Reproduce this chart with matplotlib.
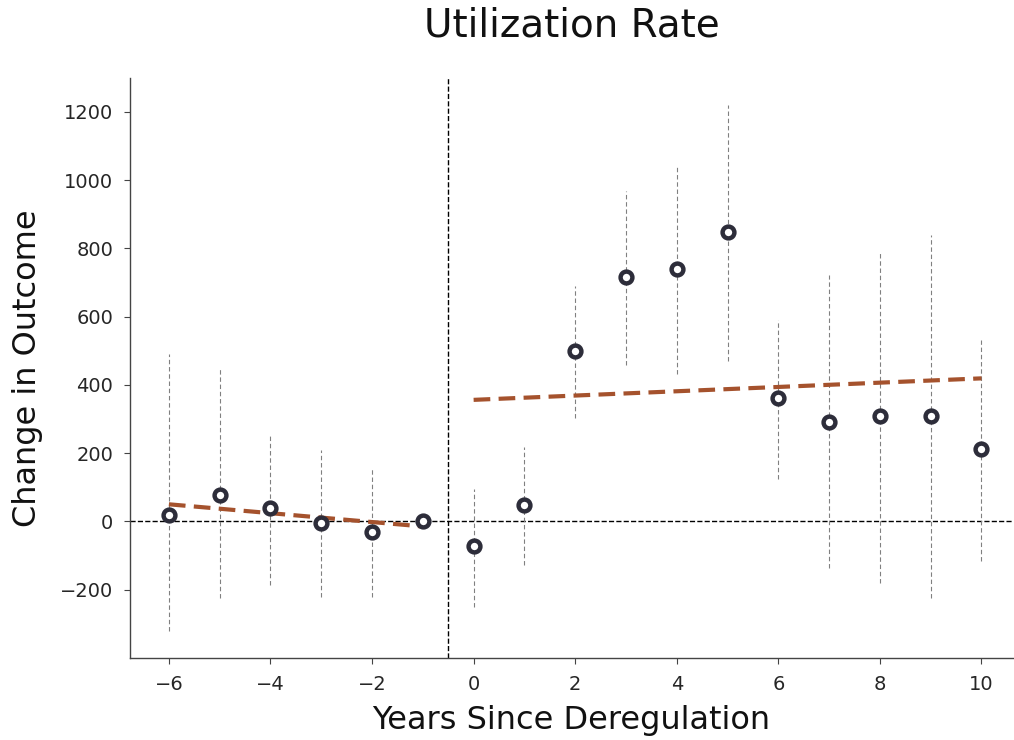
import matplotlib
matplotlib.use("Agg")
import matplotlib.pyplot as plt
import numpy as np

# event-study estimates
years = [-6, -5, -4, -3, -2, -1, 0, 1, 2, 3, 4, 5, 6, 7, 8, 9, 10]
coef = [18, 76, 38, -4, -30, 0, -73, 47, 499, 715, 738, 849, 360, 292, 308, 310, 211]
ci_low = [-321, -225, -186, -221, -221, 0, -250, -128, 302, 458, 431, 470, 123, -138, -181, -225, -116]
ci_high = [489, 450, 257, 209, 156, 0, 94, 217, 690, 967, 1038, 1221, 591, 723, 790, 840, 530]

# fitted trend lines, pre and post
pre_x = [-6, -1]
pre_y = [50, -15]
post_x = [0, 10]
post_y = [356, 419]

fig = plt.figure(figsize=(10.14, 7.40), dpi=100)
ax = fig.add_axes([0.128, 0.111, 0.871, 0.784])

for x, lo, hi in zip(years, ci_low, ci_high):
    if lo == hi:
        continue
    ax.plot([x, x], [lo, hi], color="#808080", linestyle=(0, (4, 2.5)), linewidth=0.8, zorder=1)

ax.axhline(0, color="black", linestyle="--", linewidth=1.0, zorder=0)
ax.axvline(-0.5, color="black", linestyle="--", linewidth=1.0, zorder=0)

ax.plot(pre_x, pre_y, color="#a5522d", linestyle="--", linewidth=3, dashes=(4, 2), zorder=2)
ax.plot(post_x, post_y, color="#a5522d", linestyle="--", linewidth=3, dashes=(4, 2), zorder=2)

ax.plot(years, coef, linestyle="none", marker="o", markersize=8.5,
        markerfacecolor="white", markeredgecolor="#2d2d3a", markeredgewidth=3.2, zorder=3)

ax.set_xlim(-6.77, 10.62)
ax.set_ylim(-400, 1300)
ax.set_yticks([-200, 0, 200, 400, 600, 800, 1000, 1200])
ax.set_xticks([-6, -4, -2, 0, 2, 4, 6, 8, 10])

for side in ["top", "right"]:
    ax.spines[side].set_visible(False)
for side in ["left", "bottom"]:
    ax.spines[side].set_color("#444444")
    ax.spines[side].set_linewidth(1.0)

ax.tick_params(axis="both", labelsize=14, length=4, pad=8, color="#444444", labelcolor="#262626")
ax.set_xlabel("Years Since Deregulation", fontsize=23, color="#111111", labelpad=8)
ax.set_ylabel("Change in Outcome", fontsize=23, color="#111111", labelpad=12)
ax.set_title("Utilization Rate", fontsize=28, pad=30, color="#111111")

fig.savefig("out.png", dpi=100)
